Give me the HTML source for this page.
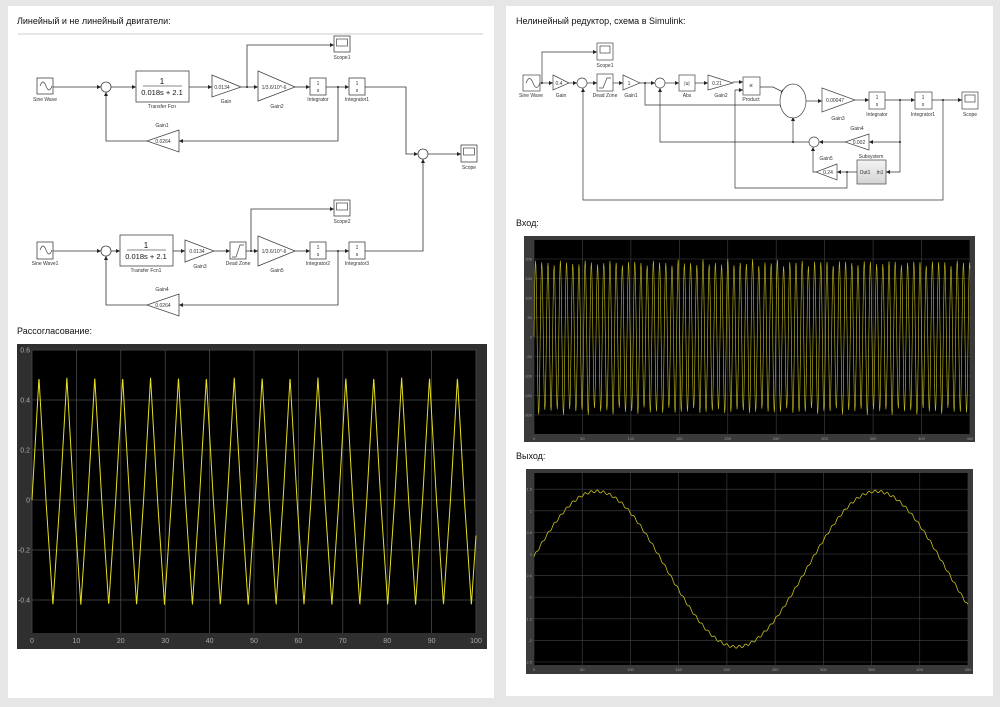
<!DOCTYPE html>
<html><head><meta charset="utf-8">
<style>
html,body{margin:0;padding:0;background:#e6e6e6;}
body{width:1000px;height:702px;overflow:hidden;position:relative;font-family:"Liberation Sans","DejaVu Sans",sans-serif;}
svg text{font-family:"Liberation Sans","DejaVu Sans",sans-serif;}
</style></head><body>
<svg id="s" width="1000" height="702" viewBox="0 0 1000 702" xmlns="http://www.w3.org/2000/svg">
<defs>
<marker id="a" markerWidth="4" markerHeight="4" refX="4" refY="2" orient="auto" markerUnits="userSpaceOnUse"><path d="M0,0 L4,2 L0,4z" fill="#222"/></marker>
<linearGradient id="sg" x1="0" y1="0" x2="0" y2="1"><stop offset="0" stop-color="#f4f4f4"/><stop offset="1" stop-color="#d4d4d4"/></linearGradient>
</defs>
<rect x="0" y="0" width="1000" height="702" fill="#e6e6e6"/>
<rect x="8" y="6" width="486" height="692" fill="#fff"/>
<rect x="506" y="6" width="487" height="690" fill="#fff"/>

<text x="17" y="24" font-size="9" fill="#111">Линейный и не линейный двигатели:</text>
<line x1="18" y1="34" x2="483" y2="34" stroke="#bbb" stroke-width="0.8"/>
<text x="516" y="24" font-size="9" fill="#111">Нелинейный редуктор, схема в Simulink:</text>
<text x="17" y="334" font-size="9" fill="#111">Рассогласование:</text>
<text x="516" y="226" font-size="9" fill="#111">Вход:</text>
<text x="516" y="459" font-size="9" fill="#111">Выход:</text>

<!-- LEFT DIAGRAM -->
<g fill="none" stroke="#333" stroke-width="0.8">
<path d="M53,87 H101" marker-end="url(#a)"/>
<path d="M111,87 H136" marker-end="url(#a)"/>
<path d="M189,87 H212" marker-end="url(#a)"/>
<path d="M241,87 H258" marker-end="url(#a)"/>
<path d="M247,87 V45 H334" marker-end="url(#a)"/>
<path d="M295,87 H310" marker-end="url(#a)"/>
<path d="M326,87 H349" marker-end="url(#a)"/>
<path d="M338,87 V141 H179" marker-end="url(#a)"/>
<path d="M147,141 H106 V92" marker-end="url(#a)"/>
<path d="M365,87 H406 V154 H418" marker-end="url(#a)"/>
<path d="M428,154 H461" marker-end="url(#a)"/>
<path d="M53,251 H101" marker-end="url(#a)"/>
<path d="M111,251 H120" marker-end="url(#a)"/>
<path d="M173,251 H185" marker-end="url(#a)"/>
<path d="M214,251 H230" marker-end="url(#a)"/>
<path d="M246,251 H258" marker-end="url(#a)"/>
<path d="M251,251 V209 H334" marker-end="url(#a)"/>
<path d="M295,251 H310" marker-end="url(#a)"/>
<path d="M326,251 H349" marker-end="url(#a)"/>
<path d="M338,251 V305 H179" marker-end="url(#a)"/>
<path d="M147,305 H106 V256" marker-end="url(#a)"/>
<path d="M365,251 H423 V159" marker-end="url(#a)"/>
</g>
<g fill="#222"><circle cx="247" cy="87" r="1"/><circle cx="338" cy="87" r="1"/><circle cx="251" cy="251" r="1"/><circle cx="338" cy="251" r="1"/></g>
<g stroke="#444" stroke-width="0.8" fill="#fff">
<!-- top row -->
<rect x="37" y="78" width="16" height="16"/>
<circle cx="106" cy="87" r="5"/>
<rect x="136" y="71" width="53" height="31"/>
<path d="M212,75 L241,87 L212,97z"/>
<path d="M258,71 L295,87 L258,101z"/>
<rect x="310" y="78" width="16" height="17"/>
<rect x="349" y="78" width="16" height="17"/>
<rect x="334" y="36" width="16" height="16"/>
<path d="M179,130 L147,141 L179,152z"/>
<circle cx="423" cy="154" r="5"/>
<rect x="461" y="145" width="16" height="17"/>
<!-- bottom row -->
<rect x="37" y="242" width="16" height="17"/>
<circle cx="106" cy="251" r="5"/>
<rect x="120" y="235" width="53" height="31"/>
<path d="M185,240 L214,251 L185,262z"/>
<rect x="230" y="242" width="16" height="17"/>
<path d="M258,236 L295,251 L258,266z"/>
<rect x="310" y="242" width="16" height="17"/>
<rect x="349" y="242" width="16" height="17"/>
<rect x="334" y="200" width="16" height="16"/>
<path d="M179,294 L147,305 L179,316z"/>
</g>
<g fill="none" stroke="#444" stroke-width="0.7">
<path d="M40,86 q3,-8 6,0 t6,0"/><path d="M40,250 q3,-8 6,0 t6,0"/>
<rect x="336.5" y="39" width="11" height="7"/><rect x="336.5" y="203" width="11" height="7"/><rect x="463.5" y="148" width="11" height="7"/>
<path d="M232,257 L236,257 L240,245 L244,245"/>
</g>
<g font-size="5" fill="#333" text-anchor="middle">
<text x="45" y="101">Sine Wave</text><text x="162" y="108">Transfer Fcn</text><text x="226" y="103">Gain</text>
<text x="277" y="108">Gain2</text><text x="318" y="101">Integrator</text><text x="357" y="101">Integrator1</text>
<text x="342" y="59">Scope1</text><text x="162" y="127">Gain1</text><text x="163" y="143">0.0264</text>
<text x="469" y="169">Scope</text>
<text x="45" y="265">Sine Wave1</text><text x="146" y="272">Transfer Fcn1</text><text x="200" y="268">Gain3</text>
<text x="238" y="265">Dead Zone</text><text x="277" y="272">Gain5</text><text x="318" y="265">Integrator2</text>
<text x="357" y="265">Integrator3</text><text x="342" y="223">Scope2</text><text x="162" y="291">Gain4</text>
<text x="163" y="307">0.0264</text>
<text x="222" y="89" text-anchor="middle">0.0134</text><text x="197" y="253">0.0134</text>
<text x="274" y="89">1/3.6/10^-6</text><text x="274" y="253">1/3.6/10^-6</text>
<text x="318" y="85">1</text><text x="318" y="92">s</text><text x="357" y="85">1</text><text x="357" y="92">s</text>
<text x="318" y="249">1</text><text x="318" y="256">s</text><text x="357" y="249">1</text><text x="357" y="256">s</text>
</g>
<g font-family="Liberation Serif" fill="#111" text-anchor="middle">
<text x="162" y="84" font-size="8">1</text><line x1="143" y1="86" x2="182" y2="86" stroke="#111" stroke-width="0.6"/><text x="162" y="95" font-size="7.5">0.018s + 2.1</text>
<text x="146" y="248" font-size="8">1</text><line x1="127" y1="250" x2="166" y2="250" stroke="#111" stroke-width="0.6"/><text x="146" y="259" font-size="7.5">0.018s + 2.1</text>
</g>

<!-- RIGHT DIAGRAM -->
<g fill="none" stroke="#333" stroke-width="0.7">
<path d="M540,83 H553" marker-end="url(#a)"/>
<path d="M542,83 V52 H597" marker-end="url(#a)"/>
<path d="M569,83 H577" marker-end="url(#a)"/>
<path d="M587,83 H597" marker-end="url(#a)"/>
<path d="M613,83 H623" marker-end="url(#a)"/>
<path d="M640,83 H655" marker-end="url(#a)"/>
<path d="M645,83 V105 H784" marker-end="url(#a)"/>
<path d="M665,83 H679" marker-end="url(#a)"/>
<path d="M695,83 H708" marker-end="url(#a)"/>
<path d="M733,82 H743" marker-end="url(#a)"/>
<path d="M760,87 H773 L785,93" marker-end="url(#a)"/>
<path d="M806,101 H822" marker-end="url(#a)"/>
<path d="M855,100 H869" marker-end="url(#a)"/>
<path d="M885,100 H915" marker-end="url(#a)"/>
<path d="M900,100 V172 H886" marker-end="url(#a)"/>
<path d="M900,142 H869" marker-end="url(#a)"/>
<path d="M932,100 H962" marker-end="url(#a)"/>
<path d="M943,100 V200 H583 V88" marker-end="url(#a)"/>
<path d="M845,142 H819" marker-end="url(#a)"/>
<path d="M809,142 H660 V88" marker-end="url(#a)"/>
<path d="M793,142 V117" marker-end="url(#a)"/>
<path d="M857,172 H837" marker-end="url(#a)"/>
<path d="M847,172 V188 H735 V90 H743" marker-end="url(#a)"/>
<path d="M816,172 H813 V147" marker-end="url(#a)"/>
</g>
<g fill="#222"><circle cx="542" cy="83" r="1"/><circle cx="645" cy="83" r="1"/><circle cx="900" cy="100" r="1"/><circle cx="900" cy="142" r="1"/><circle cx="943" cy="100" r="1"/><circle cx="793" cy="142" r="1"/><circle cx="847" cy="172" r="1"/></g>
<g stroke="#444" stroke-width="0.7" fill="#fff">
<rect x="523" y="75" width="17" height="16"/>
<rect x="597" y="43" width="16" height="17"/>
<path d="M553,75 L569,83 L553,90z"/>
<circle cx="582" cy="83" r="5"/>
<rect x="597" y="74" width="16" height="17"/>
<path d="M623,75 L640,83 L623,90z"/>
<circle cx="660" cy="83" r="5"/>
<rect x="679" y="75" width="16" height="16"/>
<path d="M708,75 L733,83 L708,90z"/>
<rect x="743" y="77" width="17" height="18"/>
<ellipse cx="793" cy="101" rx="13" ry="17"/>
<path d="M822,88 L855,100 L822,112z"/>
<rect x="869" y="92" width="16" height="17"/>
<rect x="915" y="92" width="17" height="17"/>
<rect x="962" y="92" width="16" height="17"/>
<path d="M869,134 L845,142 L869,150z"/>
<circle cx="814" cy="142" r="5"/>
<rect x="857" y="160" width="29" height="24" fill="url(#sg)"/>
<path d="M837,164 L816,172 L837,180z"/>
</g>
<g fill="none" stroke="#444" stroke-width="0.7">
<path d="M526,83 q3.5,-9 7,0 t7,0"/>
<rect x="600" y="46" width="10" height="7"/><rect x="965" y="95" width="10" height="7"/>
<path d="M599,88 L603,88 L607,78 L611,78"/>
</g>
<g font-size="5" fill="#333" text-anchor="middle">
<text x="531" y="97">Sine Wave</text><text x="605" y="67">Scope1</text><text x="561" y="97">Gain</text>
<text x="605" y="97">Dead Zone</text><text x="631" y="97">Gain1</text><text x="687" y="97">Abs</text>
<text x="721" y="97">Gain2</text><text x="751" y="101">Product</text><text x="838" y="120">Gain3</text>
<text x="877" y="116">Integrator</text><text x="923" y="116">Integrator1</text><text x="970" y="116">Scope</text>
<text x="857" y="130">Gain4</text><text x="871" y="158">Subsystem</text><text x="826" y="160">Gain5</text>
<text x="559" y="85">0.4</text><text x="629" y="85">1</text><text x="687" y="85">|u|</text><text x="717" y="85">0.21</text>
<text x="751" y="88" font-size="7">×</text><text x="835" y="102">0.00047</text><text x="877" y="99">1</text><text x="877" y="106">s</text>
<text x="923" y="99">1</text><text x="923" y="106">s</text><text x="859" y="144">0.002</text><text x="828" y="174">0.24</text>
<text x="865" y="174">Out1</text><text x="880" y="174">In1</text>
</g>

<!-- PLOTS -->
<rect x="17" y="344" width="470" height="305" fill="#2f2f2f"/>
<rect x="32" y="350" width="444" height="283" fill="#000"/>
<rect x="524" y="236" width="451" height="206" fill="#3a3a3a"/>
<rect x="534" y="240" width="436" height="194" fill="#000"/>
<rect x="526" y="469" width="447" height="205" fill="#3a3a3a"/>
<rect x="534" y="473" width="434" height="192" fill="#000"/>
<g id="g"></g>
</svg>
<script>
var NS="http://www.w3.org/2000/svg",G=document.getElementById("g");
function el(t,a,txt){var e=document.createElementNS(NS,t);for(var k in a)e.setAttribute(k,a[k]);if(txt!==undefined)e.textContent=txt;G.appendChild(e);return e;}
// left grid
for(var i=0;i<=10;i++){var x=32+i*44.4;el("line",{x1:x,y1:350,x2:x,y2:633,stroke:"#4a4a4a","stroke-width":0.8});el("text",{x:x,y:643,"font-size":7,fill:"#aaa","text-anchor":"middle"},String(i*10));}
[0.6,0.4,0.2,0,-0.2,-0.4].forEach(function(v){var y=500-v*250;el("line",{x1:32,y1:y,x2:476,y2:y,stroke:"#4a4a4a","stroke-width":0.8});el("text",{x:30,y:y+2.5,"font-size":7,fill:"#aaa","text-anchor":"end"},String(v));});
var d="";for(var t=0;t<=100;t+=0.05){var tr=Math.asin(Math.sin(t))*2/Math.PI;var v=tr>0?tr*0.49:tr*0.42;d+=(t==0?"M":"L")+(32+t*4.44).toFixed(2)+","+(500-v*250).toFixed(2);}
el("path",{d:d,fill:"none",stroke:"#e8e020","stroke-width":1});
// right plot 1
for(var i=0;i<=9;i++){var x=534+i*48.44;el("line",{x1:x,y1:240,x2:x,y2:434,stroke:"#444","stroke-width":0.6});el("text",{x:x,y:440,"font-size":4,fill:"#999","text-anchor":"middle"},String(i*50));}
for(var k=-4;k<=4;k++){var y=337-k*19.5;el("line",{x1:534,y1:y,x2:970,y2:y,stroke:"#444","stroke-width":0.6});el("text",{x:532,y:y+1.5,"font-size":4,fill:"#999","text-anchor":"end"},String(k*50));}
d="";var n=0;for(var t=0;t<=450;t+=0.4){var A=190+10*Math.sin(t*0.37)*Math.cos(t*0.11);var v=A*Math.sin(2*Math.PI*t/6.4);d+=(n++?"L":"M")+(534+t*0.9689).toFixed(2)+","+(337-v*0.39).toFixed(2);}
el("path",{d:d,fill:"none",stroke:"#c8c020","stroke-width":0.6});
// right plot 2
for(var i=0;i<=9;i++){var x=534+i*48.22;el("line",{x1:x,y1:473,x2:x,y2:665,stroke:"#444","stroke-width":0.6});el("text",{x:x,y:671,"font-size":4,fill:"#999","text-anchor":"middle"},String(i*50));}
[1.5,1,0.5,0,-0.5,-1,-1.5,-2,-2.5].forEach(function(v){var y=554-v*43.2;el("line",{x1:534,y1:y,x2:968,y2:y,stroke:"#444","stroke-width":0.6});el("text",{x:532,y:y+1.5,"font-size":4,fill:"#999","text-anchor":"end"},String(v));});
d="";n=0;for(var t=0;t<=450;t+=0.5){var v=-0.35+1.8*Math.sin(2*Math.PI*(t+7.5)/290)+0.03*Math.sin(2*Math.PI*t/6.4);d+=(n++?"L":"M")+(534+t*0.9644).toFixed(2)+","+(554-v*43.2).toFixed(2);}
el("path",{d:d,fill:"none",stroke:"#c8c020","stroke-width":0.8});
</script>
</body></html>
